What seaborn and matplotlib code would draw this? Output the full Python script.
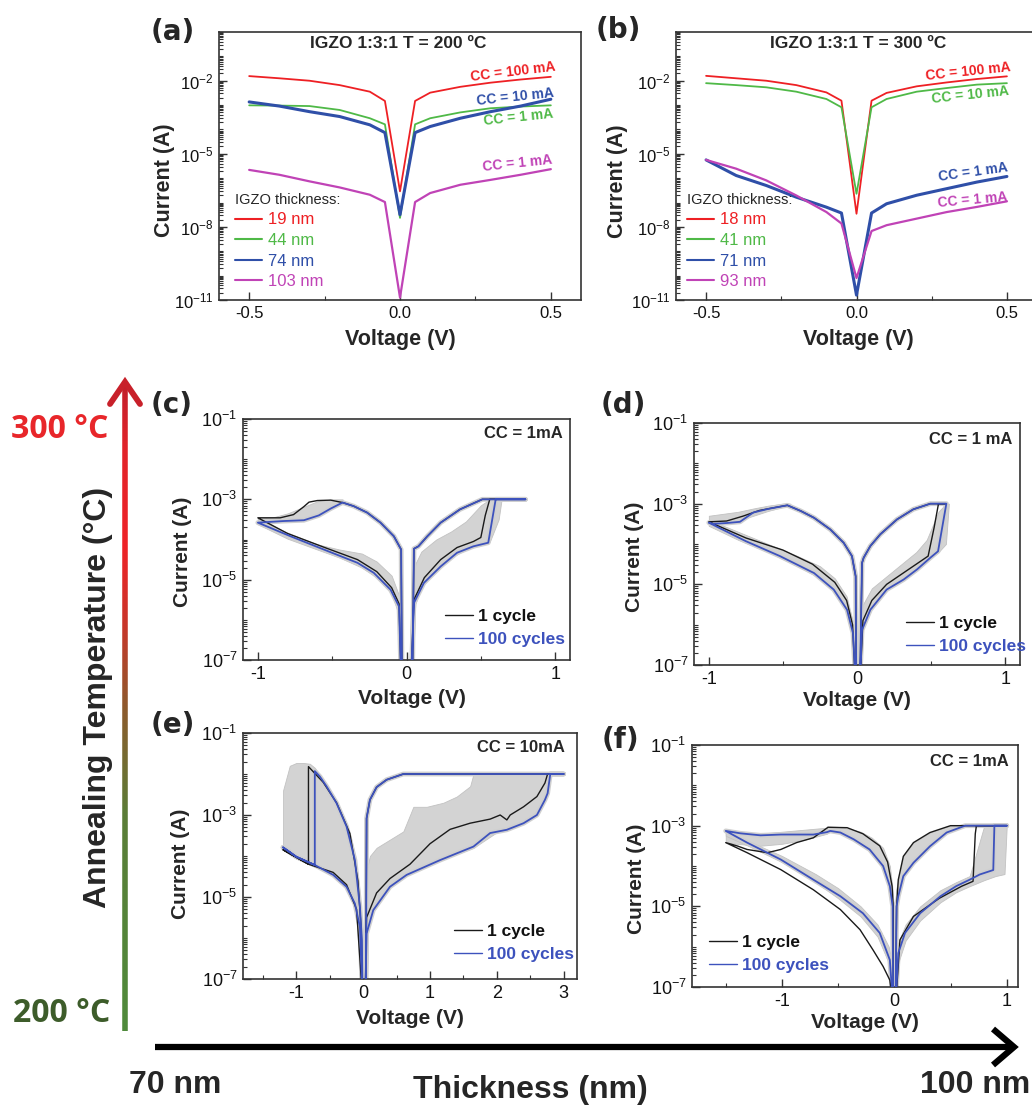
import numpy as np
import pandas as pd
import matplotlib
matplotlib.use('Agg')
import matplotlib.pyplot as plt
import seaborn as sns
from matplotlib.lines import Line2D
from matplotlib.collections import LineCollection
from matplotlib.colors import LinearSegmentedColormap
from matplotlib.ticker import FixedLocator, FuncFormatter, LogLocator, NullFormatter
from matplotlib import font_manager

# ------------------------------------------------------------------ data
# (a) / (b): log10 of current (A) vs voltage (V)
V_ab = [-0.5, -0.4, -0.3, -0.2, -0.1, -0.05, 0.0, 0.05, 0.1, 0.2, 0.3, 0.4, 0.5]
a_19 = [-1.81, -1.90, -2.00, -2.18, -2.45, -2.83, -6.54, -2.83, -2.49, -2.25, -2.08, -1.95, -1.84]
a_44 = [-3.01, -3.02, -3.04, -3.20, -3.54, -3.79, -7.63, -3.79, -3.54, -3.30, -3.13, -3.06, -3.01]
a_74 = [-2.87, -3.04, -3.27, -3.47, -3.81, -4.13, -7.50, -4.13, -3.88, -3.54, -3.27, -3.04, -2.76]
a_103 = [-5.66, -5.86, -6.13, -6.38, -6.68, -6.98, -10.9, -6.98, -6.61, -6.27, -6.07, -5.86, -5.63]
a_labels = ['19 nm', '44 nm', '74 nm', '103 nm']

b_18 = [-1.80, -1.90, -2.00, -2.18, -2.48, -2.82, -7.46, -2.82, -2.50, -2.23, -2.07, -1.93, -1.82]
b_41 = [-2.10, -2.18, -2.27, -2.45, -2.75, -3.09, -6.64, -3.09, -2.75, -2.45, -2.30, -2.16, -2.10]
b_71 = [-5.25, -5.89, -6.30, -6.78, -7.19, -7.43, -10.8, -7.43, -7.05, -6.70, -6.43, -6.16, -5.93]
b_93 = [-5.25, -5.61, -6.09, -6.71, -7.39, -7.86, -10.1, -8.17, -7.93, -7.66, -7.39, -7.18, -6.95]
b_labels = ['18 nm', '41 nm', '71 nm', '93 nm']

a_cc = ['CC = 100 mA', 'CC = 1 mA', 'CC = 10 mA', 'CC = 1 mA']
b_cc = ['CC = 100 mA', 'CC = 10 mA', 'CC = 1 mA', 'CC = 1 mA']

# (c)
c_blue_v = [0.03, 0.05, 0.117, 0.23, 0.34, 0.45, 0.55, 0.60, 0.80, 0.51, 0.36, 0.23, 0.14, 0.08, 0.05, 0.04,
            -0.03, -0.036, -0.085, -0.175, -0.265, -0.355, -0.43, -0.51, -0.59, -0.69, -0.825, -1.0,
            -0.78, -0.556, -0.33, -0.22, -0.107, -0.05, -0.036]
c_blue_i = [-7.5, -5.58, -5.08, -4.67, -4.33, -4.17, -4.08, -3.0, -3.0, -3.0, -3.25, -3.58, -3.92, -4.17, -4.23, -7.5,
            -7.5, -4.25, -3.92, -3.58, -3.33, -3.17, -3.08, -3.23, -3.40, -3.52, -3.54, -3.58,
            -3.92, -4.25, -4.58, -4.83, -5.25, -5.67, -7.5]
c_black_v = [0.03, 0.05, 0.12, 0.23, 0.34, 0.45, 0.50, 0.53, 0.56, 0.80, 0.51, 0.36, 0.23, 0.14, 0.08, 0.05, 0.04,
             -0.03, -0.036, -0.085, -0.175, -0.265, -0.355, -0.43, -0.51, -0.60, -0.656, -0.69, -0.76, -0.85, -1.0,
             -0.80, -0.55, -0.33, -0.20, -0.10, -0.05, -0.036]
c_black_i = [-7.5, -5.5, -4.95, -4.5, -4.2, -4.05, -3.95, -3.4, -3.0, -3.0, -3.0, -3.25, -3.58, -3.92, -4.17, -4.23, -7.5,
             -7.5, -4.25, -3.92, -3.58, -3.33, -3.17, -3.08, -3.02, -3.03, -3.07, -3.18, -3.38, -3.46, -3.46,
             -3.85, -4.2, -4.5, -4.8, -5.2, -5.6, -7.5]
c_g1_v = [-1.0, -0.8, -0.6, -0.45, -0.3, -0.2, -0.1, -0.05]
c_g1_lo = [-3.62, -3.98, -4.25, -4.45, -4.70, -4.95, -5.35, -5.90]
c_g1_hi = [-3.45, -3.85, -4.12, -4.25, -4.35, -4.55, -4.90, -5.40]
c_g2_v = [-1.0, -0.9, -0.8, -0.7, -0.6, -0.5, -0.43]
c_g2_lo = [-3.58, -3.56, -3.55, -3.50, -3.35, -3.20, -3.08]
c_g2_hi = [-3.48, -3.45, -3.35, -3.20, -3.05, -3.00, -3.00]
c_g3_v = [0.04, 0.06, 0.1, 0.2, 0.3, 0.4, 0.5, 0.56, 0.62, 0.64]
c_g3_lo = [-6.5, -5.6, -5.2, -4.75, -4.45, -4.25, -4.12, -4.06, -3.5, -3.0]
c_g3_hi = [-5.2, -4.6, -4.3, -4.0, -3.8, -3.55, -3.15, -3.0, -3.0, -3.0]

# (d)
d_blue_v = [0.018, 0.034, 0.09, 0.2, 0.315, 0.405, 0.495, 0.547, 0.603, 0.495, 0.38, 0.27, 0.157, 0.09, 0.045, 0.034, 0.02,
            -0.005, -0.009, -0.034, -0.09, -0.18, -0.29, -0.38, -0.47, -0.60, -0.70, -0.79, -0.88, -0.97, -1.0,
            -0.93, -0.75, -0.52, -0.29, -0.157, -0.067, -0.027, -0.009]
d_blue_i = [-7.5, -6.13, -5.63, -5.13, -4.88, -4.63, -4.34, -4.18, -3.0, -3.0, -3.14, -3.39, -3.76, -4.05, -4.34, -4.47, -7.5,
            -7.5, -4.8, -4.3, -3.97, -3.64, -3.35, -3.18, -3.04, -3.13, -3.22, -3.45, -3.48, -3.50, -3.47,
            -3.60, -3.93, -4.30, -4.72, -5.13, -5.63, -6.21, -7.5]
d_black_v = [0.02, 0.04, 0.1, 0.2, 0.3, 0.4, 0.48, 0.52, 0.55, 0.60, 0.495, 0.38, 0.27, 0.157, 0.09, 0.045, 0.034, 0.02,
             -0.005, -0.009, -0.034, -0.09, -0.18, -0.29, -0.38, -0.47, -0.56, -0.66, -0.77, -0.88, -1.0,
             -0.75, -0.5, -0.3, -0.15, -0.07, -0.03, -0.01]
d_black_i = [-7.5, -5.9, -5.4, -5.0, -4.75, -4.5, -4.3, -3.6, -3.0, -3.0, -3.0, -3.14, -3.39, -3.76, -4.05, -4.34, -4.47, -7.5,
             -7.5, -4.8, -4.3, -3.97, -3.64, -3.35, -3.18, -3.04, -3.10, -3.17, -3.31, -3.43, -3.45,
             -3.85, -4.15, -4.5, -4.95, -5.4, -6.0, -7.5]
d_g1_v = [-1.0, -0.9, -0.8, -0.7, -0.6, -0.5, -0.45]
d_g1_lo = [-3.55, -3.50, -3.42, -3.30, -3.18, -3.08, -3.04]
d_g1_hi = [-3.30, -3.25, -3.20, -3.12, -3.05, -3.00, -3.00]
d_g2_v = [-1.0, -0.8, -0.6, -0.4, -0.25, -0.15, -0.07, -0.03]
d_g2_lo = [-3.55, -3.90, -4.20, -4.55, -4.85, -5.15, -5.65, -6.30]
d_g2_hi = [-3.40, -3.70, -4.00, -4.30, -4.55, -4.85, -5.30, -5.90]
d_g3_v = [0.02, 0.04, 0.1, 0.2, 0.3, 0.4, 0.47, 0.55, 0.6, 0.62]
d_g3_lo = [-7.0, -6.1, -5.6, -5.15, -4.9, -4.65, -4.4, -4.2, -4.0, -3.0]
d_g3_hi = [-6.0, -5.5, -5.1, -4.8, -4.5, -4.2, -3.9, -3.2, -3.0, -3.0]

# (e)
e_blue_v = [0.03, 0.05, 0.15, 0.4, 0.65, 1.15, 1.65, 1.9, 2.15, 2.4, 2.6, 2.72, 2.76, 2.8, 3.0,
            0.6, 0.35, 0.2, 0.1, 0.05, 0.04,
            -0.01, -0.02, -0.05, -0.125, -0.25, -0.4, -0.55, -0.65, -0.725, -0.725, -1.0, -1.2,
            -1.0, -0.725, -0.45, -0.25, -0.125, -0.05, -0.01]
e_blue_i = [-7.5, -5.89, -5.32, -4.75, -4.46, -4.10, -3.77, -3.44, -3.36, -3.20, -3.0, -2.63, -2.47, -2.0, -2.0,
            -2.0, -2.14, -2.32, -2.63, -3.08, -7.5,
            -7.5, -6.05, -5.24, -4.10, -3.28, -2.71, -2.30, -2.06, -1.93, -4.22, -4.02, -3.79,
            -4.02, -4.22, -4.46, -4.75, -5.16, -5.73, -7.5]
e_black_v = [0.03, 0.05, 0.2, 0.4, 0.7, 1.0, 1.3, 1.6, 1.9, 2.05, 2.15, 2.2, 2.4, 2.6, 2.72, 2.76, 3.0,
             0.6, 0.35, 0.2, 0.1, 0.05, 0.04,
             -0.01, -0.03, -0.08, -0.2, -0.4, -0.6, -0.82, -0.82, -1.2,
             -0.82, -0.45, -0.25, -0.1, -0.01]
e_black_i = [-7.5, -5.5, -4.9, -4.55, -4.2, -3.7, -3.35, -3.2, -3.1, -3.0, -3.12, -3.0, -2.8, -2.55, -2.22, -2.0, -2.0,
             -2.0, -2.14, -2.32, -2.63, -3.08, -7.5,
             -7.5, -5.8, -4.6, -3.45, -2.7, -2.2, -1.82, -4.2, -3.85,
             -4.2, -4.4, -4.7, -5.3, -7.5]
e_g1_v = [-1.2, -1.1, -1.0, -0.9, -0.8, -0.725, -0.6, -0.5, -0.4, -0.3, -0.2, -0.12, -0.06, -0.02]
e_g1_lo = [-3.80, -3.92, -4.02, -4.10, -4.17, -4.22, -4.33, -4.42, -4.52, -4.67, -4.85, -5.10, -5.55, -6.50]
e_g1_hi = [-2.40, -1.80, -1.73, -1.73, -1.75, -1.85, -2.15, -2.45, -2.75, -3.05, -3.45, -4.00, -4.80, -6.00]
e_g2_v = [0.02, 0.05, 0.1, 0.2, 0.4, 0.6, 0.75, 0.95, 1.2, 1.4, 1.6, 1.65, 2.0, 2.5, 2.7, 2.8]
e_g2_lo = [-6.5, -5.85, -5.55, -5.2, -4.75, -4.5, -4.4, -4.25, -4.08, -3.95, -3.83, -3.8, -3.42, -3.1, -2.7, -2.0]
e_g2_hi = [-5.0, -4.35, -4.0, -3.8, -3.6, -3.4, -2.8, -2.8, -2.7, -2.55, -2.3, -2.0, -2.0, -2.0, -2.0, -2.0]

# (f)
f_blue_v = [0.01, 0.035, 0.095, 0.23, 0.41, 0.55, 0.67, 0.76, 0.88, 0.89, 1.0,
            0.63, 0.465, 0.317, 0.17, 0.08, 0.035, 0.02, 0.01,
            -0.01, -0.015, -0.04, -0.1, -0.22, -0.36, -0.48, -0.57, -0.6, -0.72, -1.01, -1.19, -1.37, -1.5,
            -1.31, -1.01, -0.72, -0.48, -0.28, -0.13, -0.04, -0.01]
f_blue_i = [-7.5, -6.16, -5.66, -5.17, -4.75, -4.50, -4.34, -4.21, -4.10, -3.0, -3.0,
            -3.0, -3.17, -3.51, -3.92, -4.25, -4.75, -5.0, -7.5,
            -7.5, -5.0, -4.5, -4.0, -3.59, -3.34, -3.17, -3.13, -3.16, -3.22, -3.22, -3.24, -3.19, -3.13,
            -3.42, -3.84, -4.34, -4.75, -5.17, -5.66, -6.33, -7.5]
f_black_v = [0.01, 0.05, 0.17, 0.4, 0.6, 0.7, 0.72, 0.73, 1.0,
             0.5, 0.317, 0.17, 0.08, 0.035, 0.02, 0.01,
             -0.01, -0.01, -0.02, -0.06, -0.13, -0.28, -0.42, -0.59, -0.72, -0.87, -1.01, -1.13, -1.31, -1.4, -1.5,
             -1.31, -1.01, -0.72, -0.48, -0.305, -0.19, -0.1, -0.04, -0.01]
f_black_i = [-7.5, -5.83, -5.25, -4.8, -4.5, -4.38, -3.2, -3.0, -3.0,
             -3.0, -3.17, -3.42, -3.76, -4.34, -5.0, -7.5,
             -7.5, -5.0, -4.5, -3.9, -3.5, -3.2, -3.05, -3.04, -3.3, -3.42, -3.59, -3.67, -3.59, -3.5, -3.42,
             -3.67, -4.09, -4.59, -5.08, -5.58, -6.08, -6.49, -6.83, -7.5]
f_g1_v = [-0.6, -0.5, -0.4, -0.3, -0.2, -0.1, -0.04, -0.015]
f_g1_lo = [-3.15, -3.17, -3.25, -3.40, -3.60, -4.00, -4.50, -5.00]
f_g1_hi = [-3.02, -3.03, -3.08, -3.15, -3.30, -3.55, -4.00, -4.60]
f_g2_v = [-1.5, -1.4, -1.2, -1.0, -0.8, -0.6]
f_g2_lo = [-3.42, -3.45, -3.50, -3.45, -3.35, -3.20]
f_g2_hi = [-3.10, -3.15, -3.20, -3.15, -3.10, -3.05]
f_g3_v = [-1.5, -1.3, -1.0, -0.7, -0.5, -0.3, -0.15, -0.05, -0.015]
f_g3_lo = [-3.25, -3.50, -3.90, -4.40, -4.80, -5.25, -5.75, -6.40, -7.00]
f_g3_hi = [-3.13, -3.38, -3.75, -4.20, -4.55, -5.00, -5.45, -6.00, -6.50]
f_g4_v = [0.015, 0.035, 0.08, 0.17, 0.317, 0.465, 0.55, 0.63]
f_g4_lo = [-5.0, -4.75, -4.25, -3.92, -3.51, -3.17, -3.08, -3.0]
f_g4_hi = [-4.6, -4.34, -3.76, -3.42, -3.17, -3.02, -3.0, -3.0]
f_g5_v = [0.01, 0.035, 0.1, 0.23, 0.41, 0.55, 0.67, 0.8, 0.9, 0.98, 1.0]
f_g5_lo = [-7.3, -6.4, -5.85, -5.35, -4.9, -4.65, -4.5, -4.35, -4.25, -4.2, -3.0]
f_g5_hi = [-6.0, -5.9, -5.45, -5.0, -4.6, -4.4, -4.25, -3.0, -3.0, -3.0, -3.0]

cc_texts = ['CC = 1mA', 'CC = 1 mA', 'CC = 10mA', 'CC = 1mA']

# ------------------------------------------------------------------ style
sns.set_theme(style='ticks')
names = {f.name for f in font_manager.fontManager.ttflist}
MAIN = ['Liberation Sans', 'DejaVu Sans']
plt.rcParams['font.family'] = MAIN
plt.rcParams['mathtext.default'] = 'regular'
plt.rcParams['axes.unicode_minus'] = False
if 'Liberation Sans Narrow' in names:
    NARROW, NSIZE = ['Liberation Sans Narrow', 'DejaVu Sans'], 28
else:
    NARROW, NSIZE = MAIN, 23
if 'Open Sans' in names:
    TEMPF, TSIZE = ['Open Sans', 'DejaVu Sans'], 23
else:
    TEMPF, TSIZE = ['DejaVu Sans'], 19

W, H = 1032, 1109
fig = plt.figure(figsize=(W / 100, H / 100), dpi=100)
fig.patch.set_facecolor('white')

RED, GREEN, BLUE, MAG = '#ee2024', '#4fb947', '#2f4fa8', '#c043b6'
CBLUE = '#3d52bd'
GRAY = '#d3d3d3'
SPINE = '#333333'


def fxy(x, y):
    return (x / W, 1 - y / H)


def px_axes(l, t, r, b):
    return fig.add_axes([l / W, 1 - b / H, (r - l) / W, (b - t) / H])


def style_axes(ax, xlim, xmaj, xmin, ylim, ymaj, tsize):
    ax.set_yscale('log')
    ax.set_xlim(*xlim)
    ax.set_ylim(*ylim)
    ax.xaxis.set_major_locator(FixedLocator(xmaj))
    ax.xaxis.set_minor_locator(FixedLocator(xmin))
    ax.yaxis.set_major_locator(FixedLocator(ymaj))
    ax.yaxis.set_minor_locator(LogLocator(base=10, subs=np.arange(1, 10), numticks=60))
    ax.yaxis.set_major_formatter(FuncFormatter(lambda v, p: r'$10^{%d}$' % round(np.log10(v))))
    ax.yaxis.set_minor_formatter(NullFormatter())
    ax.tick_params(which='both', direction='in', top=False, right=False, color=SPINE,
                   labelsize=tsize, labelcolor='#111111', pad=4)
    ax.tick_params(which='major', length=6, width=1.0)
    ax.tick_params(which='minor', length=3, width=0.8)
    for s in ax.spines.values():
        s.set_visible(True)
        s.set_color(SPINE)
        s.set_linewidth(1.2)
    ax.set_facecolor('white')
    ax.grid(False)


def set_labels(ax, xl_px, yl_px, size=15):
    ax.set_xlabel('Voltage (V)', fontsize=size, fontweight='bold')
    ax.set_ylabel('Current (A)', fontsize=size, fontweight='bold')
    bb = ax.get_position()
    xf = ((xl_px[0] / W) - bb.x0) / bb.width
    yf = ((1 - xl_px[1] / H) - bb.y0) / bb.height
    ax.xaxis.set_label_coords(xf, yf)
    ax.xaxis.label.set_va('center')
    xf = ((yl_px[0] / W) - bb.x0) / bb.width
    yf = ((1 - yl_px[1] / H) - bb.y0) / bb.height
    ax.yaxis.set_label_coords(xf, yf)
    ax.yaxis.label.set_va('center')


def curve(ax, v, logi, color, lw, z):
    df = pd.DataFrame({'V': v, 'I': 10.0 ** np.asarray(logi, dtype=float)})
    sns.lineplot(data=df, x='V', y='I', sort=False, estimator=None, color=color,
                 lw=lw, ax=ax, zorder=z)


def band(ax, v, lo, hi):
    ax.fill_between(v, 10.0 ** np.asarray(lo), 10.0 ** np.asarray(hi), facecolor=GRAY,
                    lw=0.6, edgecolor='#c2c2c2', zorder=1)


# ------------------------------------------------------------------ background decorations
bg = fig.add_axes([0, 0, 1, 1])
bg.set_xlim(0, W)
bg.set_ylim(H, 0)
bg.axis('off')

cmap = LinearSegmentedColormap.from_list('temp', [(0.0, '#4f8a3b'), (0.33, '#5a7d37'), (0.5, '#8d5a2c'),
                                                   (0.63, '#c9352a'), (0.75, '#ee2227'), (0.9, '#e1232a'),
                                                   (1.0, '#c21f2b')])
ys = np.linspace(1031, 382, 200)
segs = [[(125, ys[i]), (125, ys[i + 1])] for i in range(len(ys) - 1)]
lc = LineCollection(segs, colors=cmap(np.linspace(0, 1, len(segs))), linewidths=4.0, capstyle='butt')
bg.add_collection(lc)
bg.plot([110, 125, 140], [404, 382, 404], color='#c8202a', lw=4.2, solid_capstyle='round',
        solid_joinstyle='miter')
bg.plot([155, 1012], [1047, 1047], color='black', lw=4.5, solid_capstyle='butt')
bg.plot([993, 1014, 993], [1029, 1047, 1065], color='black', lw=4.5, solid_capstyle='butt',
        solid_joinstyle='miter')

fig.text(*fxy(60, 430), '300 °C', color='#e8262a', fontsize=TSIZE, fontweight='bold',
         family=TEMPF, ha='center', va='center')
fig.text(*fxy(62, 1013), '200 °C', color='#3d5c2a', fontsize=TSIZE, fontweight='bold',
         family=TEMPF, ha='center', va='center')
fig.text(*fxy(98, 697), 'Annealing Temperature (°C)', rotation=90, fontsize=NSIZE,
         fontweight='bold', family=NARROW, ha='center', va='center')
fig.text(*fxy(175, 1085), '70 nm', fontsize=NSIZE, fontweight='bold', family=NARROW,
         ha='center', va='center')
fig.text(*fxy(530, 1090), 'Thickness (nm)', fontsize=NSIZE, fontweight='bold', family=NARROW,
         ha='center', va='center')
fig.text(*fxy(975, 1085), '100 nm', fontsize=NSIZE, fontweight='bold', family=NARROW,
         ha='center', va='center')

# ------------------------------------------------------------------ (a) and (b)
ab_specs = [
    dict(box=(219, 32, 581, 300), data=[a_19, a_44, a_74, a_103], labels=a_labels,
         title='IGZO 1:3:1 T = 200 ºC', title_px=(398, 44), xl=(400, 340), yl=(164, 180),
         leg=(235, 193), plabel='(a)', plabel_px=(173, 32),
         cc=a_cc, cc_px=[(513, 72), (518, 117), (515, 97), (517, 163)],
         cc_col=[RED, GREEN, BLUE, MAG], cc_rot=[7, 6, 6, 6]),
    dict(box=(676, 32, 1037, 300), data=[b_18, b_41, b_71, b_93], labels=b_labels,
         title='IGZO 1:3:1 T = 300 ºC', title_px=(858, 44), xl=(858, 340), yl=(618, 181),
         leg=(687, 193), plabel='(b)', plabel_px=(618, 30),
         cc=b_cc, cc_px=[(968, 72), (970, 95), (973, 172), (973, 200)],
         cc_col=[RED, GREEN, BLUE, MAG], cc_rot=[6, 6, 8, 5]),
]
ab_colors = [RED, GREEN, BLUE, MAG]
ab_lws = [1.3, 1.3, 2.2, 1.6]

for spec in ab_specs:
    ax = px_axes(*spec['box'])
    style_axes(ax, (-0.6, 0.6), [-0.5, 0.0, 0.5], [-0.25, 0.25], (1e-11, 1e0),
               [1e-11, 1e-8, 1e-5, 1e-2], 12)
    ax.xaxis.set_major_formatter(FuncFormatter(lambda v, p: '%.1f' % v))
    for vals, col, lw in zip(spec['data'], ab_colors, ab_lws):
        curve(ax, V_ab, vals, col, lw, 3)
    set_labels(ax, spec['xl'], spec['yl'], 15.5)
    fig.text(*fxy(*spec['title_px']), spec['title'], fontsize=12.5, fontweight='bold',
             ha='center', va='center')
    for t, p, c, r in zip(spec['cc'], spec['cc_px'], spec['cc_col'], spec['cc_rot']):
        fig.text(*fxy(*p), t, color=c, fontsize=10, fontweight='bold', rotation=r,
                 ha='center', va='center')
    handles = [Line2D([], [], color=c, lw=1.5) for c in ab_colors]
    lg = ax.legend(handles, spec['labels'], title='IGZO thickness:', loc='upper left',
                   bbox_to_anchor=fxy(*spec['leg']), bbox_transform=fig.transFigure,
                   frameon=False, fontsize=12, title_fontsize=10.5, handlelength=1.6,
                   handletextpad=0.35, labelspacing=0.33, borderpad=0, borderaxespad=0,
                   labelcolor=ab_colors)
    lg._legend_box.align = 'left'
    fig.text(*fxy(*spec['plabel_px']), spec['plabel'], fontsize=20, fontweight='bold',
             family=['DejaVu Sans'], ha='center', va='center')

# ------------------------------------------------------------------ (c)-(f)
cf_specs = [
    dict(box=(243, 419, 570, 660), xlim=(-1.1, 1.1), xmaj=[-1, 0, 1], xmin=[-0.5, 0.5],
         blue=(c_blue_v, c_blue_i), black=(c_black_v, c_black_i),
         bands=[(c_g1_v, c_g1_lo, c_g1_hi), (c_g2_v, c_g2_lo, c_g2_hi), (c_g3_v, c_g3_lo, c_g3_hi)],
         xl=(412, 698), yl=(183, 552), cc_px=(563, 433), leg=(445, 609),
         plabel='(c)', plabel_px=(172, 405)),
    dict(box=(694, 423, 1020, 665), xlim=(-1.1, 1.1), xmaj=[-1, 0, 1], xmin=[-0.5, 0.5],
         blue=(d_blue_v, d_blue_i), black=(d_black_v, d_black_i),
         bands=[(d_g1_v, d_g1_lo, d_g1_hi), (d_g2_v, d_g2_lo, d_g2_hi), (d_g3_v, d_g3_lo, d_g3_hi)],
         xl=(857, 700), yl=(635, 557), cc_px=(1012, 439), leg=(906, 616),
         plabel='(d)', plabel_px=(623, 405)),
    dict(box=(243, 733, 577, 979), xlim=(-1.8, 3.2), xmaj=[-1, 0, 1, 2, 3],
         xmin=[-1.5, -0.5, 0.5, 1.5, 2.5],
         blue=(e_blue_v, e_blue_i), black=(e_black_v, e_black_i),
         bands=[(e_g1_v, e_g1_lo, e_g1_hi), (e_g2_v, e_g2_lo, e_g2_hi)],
         xl=(410, 1018), yl=(180, 864), cc_px=(565, 747), leg=(454, 924),
         plabel='(e)', plabel_px=(173, 725)),
    dict(box=(692, 745, 1018, 987), xlim=(-1.8, 1.1), xmaj=[-1, 0, 1], xmin=[-1.5, -0.5, 0.5],
         blue=(f_blue_v, f_blue_i), black=(f_black_v, f_black_i),
         bands=[(f_g1_v, f_g1_lo, f_g1_hi), (f_g2_v, f_g2_lo, f_g2_hi), (f_g3_v, f_g3_lo, f_g3_hi),
                (f_g4_v, f_g4_lo, f_g4_hi), (f_g5_v, f_g5_lo, f_g5_hi)],
         xl=(865, 1023), yl=(637, 879), cc_px=(1009, 762), leg=(709, 935),
         plabel='(f)', plabel_px=(620, 740)),
]

for spec, cct in zip(cf_specs, cc_texts):
    ax = px_axes(*spec['box'])
    style_axes(ax, spec['xlim'], spec['xmaj'], spec['xmin'], (1e-7, 1e-1),
               [1e-7, 1e-5, 1e-3, 1e-1], 13)
    for bv, blo, bhi in spec['bands']:
        band(ax, bv, blo, bhi)
    curve(ax, spec['blue'][0], spec['blue'][1], '#cfcfcf', 3.5, 1.5)
    curve(ax, spec['black'][0], spec['black'][1], '#1a1a1a', 1.0, 2)
    curve(ax, spec['blue'][0], spec['blue'][1], CBLUE, 1.3, 3)
    set_labels(ax, spec['xl'], spec['yl'], 15)
    fig.text(*fxy(*spec['cc_px']), cct, fontsize=12, fontweight='bold', ha='right', va='center')
    handles = [Line2D([], [], color='#1a1a1a', lw=1.0), Line2D([], [], color=CBLUE, lw=1.0)]
    ax.legend(handles, ['1 cycle', '100 cycles'], loc='upper left',
              bbox_to_anchor=fxy(*spec['leg']), bbox_transform=fig.transFigure,
              frameon=False, prop={'weight': 'bold', 'size': 12.5}, handlelength=1.6,
              handletextpad=0.3, labelspacing=0.45, borderpad=0, borderaxespad=0,
              labelcolor=['#111111', CBLUE])
    fig.text(*fxy(*spec['plabel_px']), spec['plabel'], fontsize=20, fontweight='bold',
             family=['DejaVu Sans'], ha='center', va='center')

fig.savefig('out.png', dpi=100, facecolor='white')
